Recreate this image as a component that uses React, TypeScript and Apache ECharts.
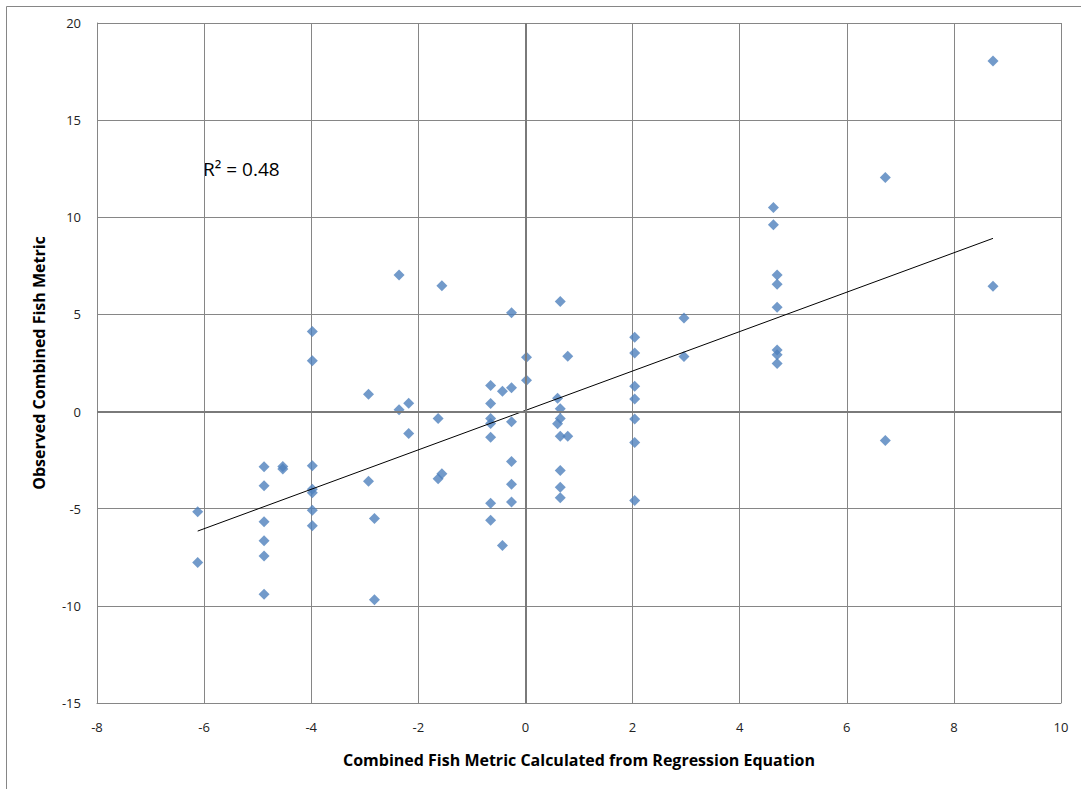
import React, { useEffect, useRef } from "react";
import * as echarts from "echarts";

// Combined Fish Metric calculated from regression equation (x)
const predicted: number[] = [
  -6.12, -6.12, -4.88, -4.88, -4.88, -4.88, -4.88, -4.88, -4.53, -4.53,
  -3.98, -3.98, -3.98, -3.98, -3.98, -3.98, -3.98, -2.93, -2.93, -2.82,
  -2.82, -2.36, -2.36, -2.18, -2.18, -1.63, -1.63, -1.56, -1.56, -0.65,
  -0.65, -0.65, -0.65, -0.65, -0.65, -0.65, -0.43, -0.43, -0.26, -0.26,
  -0.26, -0.26, -0.26, -0.26, 0.02, 0.02, 0.65, 0.6, 0.65, 0.65,
  0.6, 0.65, 0.79, 0.79, 0.65, 0.65, 0.65, 2.04, 2.04, 2.04,
  2.04, 2.04, 2.04, 2.04, 2.96, 2.96, 4.63, 4.63, 4.7, 4.7,
  4.7, 4.7, 4.7, 4.7, 6.72, 6.72, 8.73, 8.73,
];

// Observed Combined Fish Metric (y)
const observed: number[] = [
  -5.16, -7.77, -2.84, -3.82, -5.67, -6.65, -7.44, -9.4, -2.83, -2.95,
  4.12, 2.61, -2.79, -4.0, -4.18, -5.08, -5.88, 0.89, -3.59, -5.5,
  -9.69, 7.03, 0.1, 0.43, -1.13, -0.36, -3.46, 6.48, -3.2, 1.34,
  0.41, -0.36, -0.62, -1.32, -4.72, -5.59, 1.05, -6.89, 5.08, 1.23,
  -0.53, -2.57, -3.74, -4.65, 2.79, 1.61, 5.67, 0.69, 0.14, -0.36,
  -0.63, -1.27, -1.27, 2.85, -3.03, -3.89, -4.44, 3.82, 3.02, 1.3,
  0.65, -0.38, -1.59, -4.58, 4.82, 2.83, 10.51, 9.62, 7.03, 6.55,
  5.37, 3.17, 2.93, 2.47, 12.05, -1.49, 18.04, 6.45,
];

const xAxisMin = -8;
const xAxisMax = 10;
const xAxisStep = 2;
const yAxisMin = -15;
const yAxisMax = 20;
const yAxisStep = 5;
const rSquaredLabel = "R² = 0.48";
const xTitle = "Combined Fish Metric Calculated from Regression Equation";
const yTitle = "Observed Combined Fish Metric";

function linearFit(xs: number[], ys: number[]) {
  const n = xs.length;
  let sx = 0, sy = 0, sxx = 0, sxy = 0;
  for (let i = 0; i < n; i++) {
    sx += xs[i];
    sy += ys[i];
    sxx += xs[i] * xs[i];
    sxy += xs[i] * ys[i];
  }
  const slope = (n * sxy - sx * sy) / (n * sxx - sx * sx);
  const intercept = (sy - slope * sx) / n;
  return { slope, intercept };
}

const FONT = "'Open Sans', 'Noto Sans', sans-serif";

export default function App() {
  const ref = useRef<HTMLDivElement | null>(null);

  useEffect(() => {
    if (!ref.current) return;
    const chart = echarts.init(ref.current, undefined, { renderer: "svg" });
    const points = predicted.map((x, i) => [x, observed[i]]);
    const { slope, intercept } = linearFit(predicted, observed);
    const xMin = Math.min(...predicted);
    const xMax = Math.max(...predicted);
    const trend = [
      [xMin, slope * xMin + intercept],
      [xMax, slope * xMax + intercept],
    ];

    chart.setOption({
      animation: false,
      backgroundColor: "#ffffff",
      textStyle: { fontFamily: FONT },
      grid: { left: 97, top: 23, width: 964, height: 680, containLabel: false },
      xAxis: {
        type: "value",
        min: xAxisMin,
        max: xAxisMax,
        interval: xAxisStep,
        name: xTitle,
        nameLocation: "middle",
        nameGap: 49,
        nameTextStyle: { fontFamily: FONT, fontSize: 16, fontWeight: "bold", color: "#000" },
        axisLine: { show: true, onZero: false, lineStyle: { color: "#868686", width: 1 } },
        axisTick: { show: false },
        axisLabel: { fontFamily: FONT, fontSize: 13, color: "#222", margin: 17 },
        splitLine: { show: true, lineStyle: { color: "#868686", width: 1 } },
      },
      yAxis: {
        type: "value",
        min: yAxisMin,
        max: yAxisMax,
        interval: yAxisStep,
        name: yTitle,
        nameLocation: "middle",
        nameGap: 50,
        nameTextStyle: { fontFamily: FONT, fontSize: 16, fontWeight: "bold", color: "#000" },
        axisLine: { show: true, onZero: false, lineStyle: { color: "#868686", width: 1 } },
        axisTick: { show: false },
        axisLabel: { fontFamily: FONT, fontSize: 13, color: "#222", margin: 16 },
        splitLine: { show: true, lineStyle: { color: "#868686", width: 1 } },
      },
      series: [
        {
          type: "scatter",
          data: points,
          symbol: "diamond",
          symbolSize: 11,
          itemStyle: { color: "#4F81BD" },
          z: 3,
          markLine: {
            silent: true,
            symbol: "none",
            label: { show: false },
            lineStyle: { color: "#7a7a7a", width: 2, type: "solid" },
            data: [{ xAxis: 0 }, { yAxis: 0 }],
          },
        },
        {
          type: "line",
          data: trend,
          showSymbol: false,
          symbol: "none",
          lineStyle: { color: "#000000", width: 1 },
          z: 4,
        },
      ],
      graphic: [
        {
          type: "polyline",
          shape: { points: [[6.5, 789], [6.5, 6.5], [1081, 6.5]] },
          style: { stroke: "#868686", fill: "none", lineWidth: 1 },
        },
        {
          type: "text",
          left: 203,
          top: 159,
          style: { text: rSquaredLabel, fontFamily: FONT, fontSize: 19, fill: "#000" },
        },
      ],
    });
    return () => chart.dispose();
  }, []);

  return (
    <div
      ref={ref}
      style={{ position: "fixed", left: 0, top: 0, width: 1081, height: 789, background: "#fff" }}
    />
  );
}
